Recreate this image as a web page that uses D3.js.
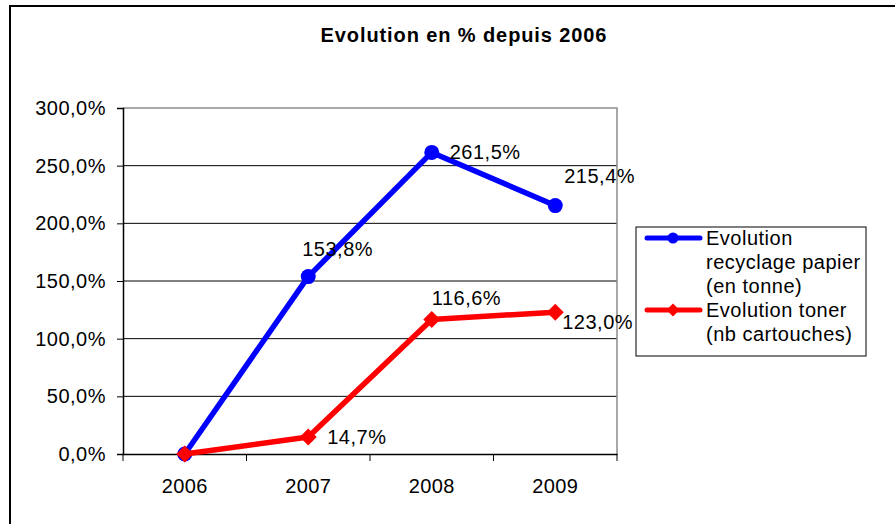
<!DOCTYPE html>
<html>
<head>
<meta charset="utf-8">
<script src="https://cdn.jsdelivr.net/npm/d3@7"></script>
<style>
  body { margin: 0; background: #fff; }
  svg { display: block; font-family: "Liberation Sans", Arial, sans-serif; }
</style>
</head>
<body>
<svg width="895" height="524"></svg>
<script>
// data *************************************************************
var years = ['2006', '2007', '2008', '2009'];
var papier = [0, 1.538, 2.615, 2.154];
var toner = [0, 0.147, 1.166, 1.230];
var yTicks = [0, 0.5, 1, 1.5, 2, 2.5, 3];
var titleText = 'Evolution en % depuis 2006';
var legendLines = [
    ['Evolution', 'recyclage papier', '(en tonne)'],
    ['Evolution toner', '(nb cartouches)']
];
// label offsets from the marker (moved by hand in the original)
var papierLabelOffsets = [null, [-6, -28], [18, 0], [9, -30]];
var tonerLabelOffsets = [null, [19, 0], [0, -22], [7, 10]];

var svg = d3.select('svg');

var fr = d3.formatLocale({ decimal: ',', thousands: ' ', grouping: [3], currency: ['', ' €'] });
var pct = fr.format('.1%');

var x = d3.scaleBand().domain(years).range([123, 617]);
var y = d3.scaleLinear().domain([0, 3]).range([454, 108]);
var cx = d => x(d) + x.bandwidth() / 2;

// chart frame
svg.append('path')
    .attr('d', 'M10,524 V6 H895')
    .attr('fill', 'none')
    .attr('stroke', '#000')
    .attr('stroke-width', 2);

svg.append('text')
    .attr('x', 464).attr('y', 35)
    .attr('dy', '0.35em')
    .attr('text-anchor', 'middle')
    .attr('font-size', 20).attr('font-weight', 'bold')
    .attr('letter-spacing', 0.9)
    .text(titleText);

// gridlines
svg.append('g').selectAll('line')
    .data(yTicks.filter(d => d > 0 && d < 3))
    .enter().append('line')
    .attr('x1', 123).attr('x2', 617)
    .attr('y1', d => y(d)).attr('y2', d => y(d))
    .attr('stroke', '#000');

// plot area border (top, right)
svg.append('path')
    .attr('d', `M123,${y(3)} H617 V454`)
    .attr('fill', 'none')
    .attr('stroke', '#8c8c8c')
    .attr('stroke-width', 1.5);

// axes
var yAxis = svg.append('g')
    .attr('transform', 'translate(123,0)')
    .call(d3.axisLeft(y).tickValues(yTicks).tickFormat(pct).tickSize(6).tickPadding(11));
yAxis.select('.domain').attr('stroke', '#000').attr('stroke-width', 1.5);
yAxis.selectAll('text').attr('font-size', 20).attr('fill', '#000')
    .attr('letter-spacing', 0.5).attr('font-family', '"Liberation Sans", Arial, sans-serif');

var xAxis = svg.append('g')
    .attr('transform', 'translate(0,454)')
    .call(d3.axisBottom(x).tickSize(0).tickPadding(25));
xAxis.select('.domain').attr('stroke', '#000').attr('stroke-width', 1.5);
xAxis.selectAll('text').attr('font-size', 20).attr('fill', '#000')
    .attr('letter-spacing', 0.4).attr('font-family', '"Liberation Sans", Arial, sans-serif');

svg.append('g').selectAll('line')
    .data(x.range().concat(years.slice(1).map(d => x(d))))
    .enter().append('line')
    .attr('x1', d => d).attr('x2', d => d)
    .attr('y1', 454).attr('y2', 461)
    .attr('stroke', '#000');

// series
var line = d3.line()
    .x((d, i) => cx(years[i]))
    .y(d => y(d));

var diamond = (s) => `M0,${-s} L${s},0 L0,${s} L${-s},0 Z`;

function drawSeries(values, color, marker, offsets) {
    var g = svg.append('g');
    g.append('path')
        .attr('d', line(values))
        .attr('fill', 'none')
        .attr('stroke', color)
        .attr('stroke-width', 5.5)
        .attr('stroke-linejoin', 'round');
    values.forEach((v, i) => {
        if (marker === 'circle') {
            g.append('circle')
                .attr('cx', cx(years[i])).attr('cy', y(v)).attr('r', 7.5)
                .attr('fill', color);
        } else {
            g.append('path')
                .attr('transform', `translate(${cx(years[i])},${y(v)})`)
                .attr('d', diamond(8.5))
                .attr('fill', color);
        }
        if (offsets[i]) {
            g.append('text')
                .attr('x', cx(years[i]) + offsets[i][0])
                .attr('y', y(v) + offsets[i][1])
                .attr('dy', '0.35em')
                .attr('font-size', 20)
                .attr('letter-spacing', 0.5)
                .text(pct(v));
        }
    });
}

drawSeries(papier, '#0000ff', 'circle', papierLabelOffsets);
drawSeries(toner, '#ff0000', 'diamond', tonerLabelOffsets);

// legend
var legend = svg.append('g');
legend.append('rect')
    .attr('x', 636).attr('y', 227)
    .attr('width', 230).attr('height', 129)
    .attr('fill', '#fff')
    .attr('stroke', '#000');

var legendItems = [
    { color: '#0000ff', marker: 'circle', y: 238 },
    { color: '#ff0000', marker: 'diamond', y: 310 }
];
legendItems.forEach((it, k) => {
    legend.append('line')
        .attr('x1', 647).attr('x2', 700)
        .attr('y1', it.y).attr('y2', it.y)
        .attr('stroke', it.color).attr('stroke-width', 5)
        .attr('stroke-linecap', 'round');
    if (it.marker === 'circle') {
        legend.append('circle').attr('cx', 673).attr('cy', it.y).attr('r', 5.5).attr('fill', it.color);
    } else {
        legend.append('path').attr('transform', `translate(673,${it.y})`).attr('d', diamond(6.5)).attr('fill', it.color);
    }
    legendLines[k].forEach((t, j) => {
        legend.append('text')
            .attr('x', 706).attr('y', it.y + j * 24)
            .attr('dy', '0.35em')
            .attr('font-size', 20)
            .attr('letter-spacing', 0.5)
            .text(t);
    });
});
</script>
</body>
</html>
